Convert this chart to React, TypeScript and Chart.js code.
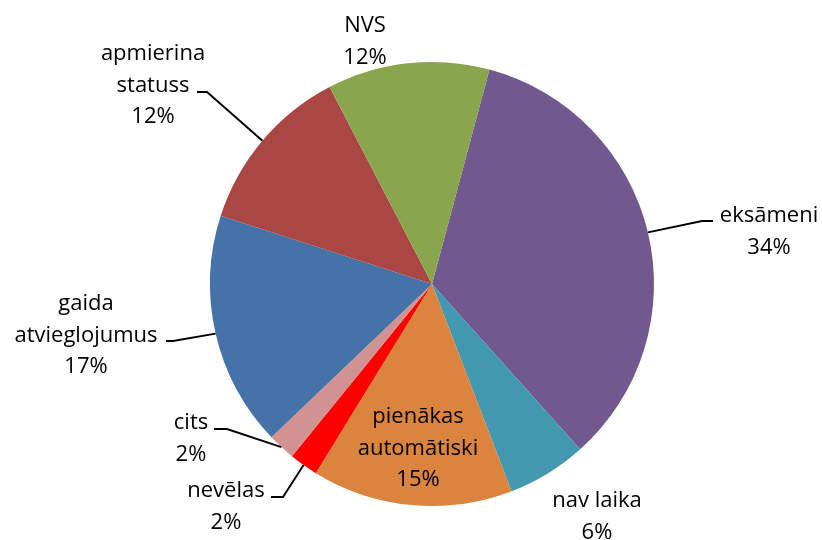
import React, { useEffect, useRef } from "react";
import { Chart, registerables } from "chart.js";

Chart.register(...registerables);

// ---- data ----
const categories = [
  "eksāmeni",
  "nav laika",
  "pienākas automātiski",
  "nevēlas",
  "cits",
  "gaida atvieglojumus",
  "apmierina statuss",
  "NVS",
];
const categoryLines = [
  ["eksāmeni"],
  ["nav laika"],
  ["pienākas", "automātiski"],
  ["nevēlas"],
  ["cits"],
  ["gaida", "atvieglojumus"],
  ["apmierina", "statuss"],
  ["NVS"],
];
const shares = [34.2, 5.8, 14.6, 2.1, 2.0, 17.1, 12.4, 11.8];
const colors = [
  "#71588F",
  "#4198AF",
  "#DB843D",
  "#FF0000",
  "#D19392",
  "#4572A7",
  "#AA4643",
  "#89A54E",
];

// ---- label layout (px offsets from pie centre; style config, not data) ----
type LabelPlace = {
  dx: number;
  dy: number; // first baseline
  knee?: [number, number];
  tail?: [number, number];
};
const labelPlaces: LabelPlace[] = [
  { dx: 337, dy: -62, knee: [270, -63], tail: [281, -63] },
  { dx: 165, dy: 223 },
  { dx: -14, dy: 139 },
  { dx: -206, dy: 213, knee: [-149, 213], tail: [-161, 213] },
  { dx: -241, dy: 145, knee: [-205, 145], tail: [-218, 145] },
  { dx: -346, dy: 26, knee: [-259, 57], tail: [-266, 57] },
  { dx: -279, dy: -224, knee: [-225, -192], tail: [-235, -192] },
  { dx: -67, dy: -252 },
];
const FONT = '22px "Open Sans", "Noto Sans", sans-serif';
const LINE_H = 31.7;

const labelPlugin = {
  id: "pieLabels",
  afterDatasetsDraw(chart: any) {
    const ctx = chart.ctx as CanvasRenderingContext2D;
    const meta = chart.getDatasetMeta(0);
    const data = chart.data.datasets[0].data as number[];
    const total = data.reduce((a, b) => a + b, 0);
    ctx.save();
    meta.data.forEach((arc: any, i: number) => {
      const p = labelPlaces[i];
      const cx = arc.x;
      const cy = arc.y;
      const mid = (arc.startAngle + arc.endAngle) / 2;
      const R = arc.outerRadius;
      if (p.knee && p.tail) {
        ctx.beginPath();
        ctx.strokeStyle = "#000";
        ctx.lineWidth = 1.9;
        ctx.moveTo(cx + Math.cos(mid) * R, cy + Math.sin(mid) * R);
        ctx.lineTo(cx + p.knee[0], cy + p.knee[1]);
        ctx.lineTo(cx + p.tail[0], cy + p.tail[1]);
        ctx.stroke();
      }
      const lines = [...categoryLines[i], Math.round((data[i] / total) * 100) + "%"];
      ctx.font = FONT;
      ctx.fillStyle = "#000";
      ctx.textAlign = "center";
      ctx.textBaseline = "alphabetic";
      lines.forEach((t, k) => {
        ctx.fillText(t, cx + p.dx, cy + p.dy + k * LINE_H);
      });
    });
    ctx.restore();
  },
};

export default function App() {
  const ref = useRef<HTMLCanvasElement | null>(null);
  useEffect(() => {
    document.body.style.margin = "0";
    const canvas = ref.current;
    if (!canvas) return;
    const chart = new Chart(canvas, {
      type: "pie",
      data: {
        labels: categories,
        datasets: [
          {
            data: shares,
            backgroundColor: colors,
            borderWidth: 0,
          },
        ],
      },
      options: {
        responsive: false,
        animation: false,
        devicePixelRatio: 1,
        rotation: 15,
        layout: { padding: { left: 200, right: 158, top: 62, bottom: 34 } },
        plugins: {
          legend: { display: false },
          tooltip: { enabled: false },
        },
      },
      plugins: [labelPlugin],
    });
    return () => chart.destroy();
  }, []);
  return (
    <div style={{ position: "absolute", left: 0, top: 0, width: 822, height: 540, background: "#fff" }}>
      <canvas ref={ref} width={822} height={540} />
    </div>
  );
}
